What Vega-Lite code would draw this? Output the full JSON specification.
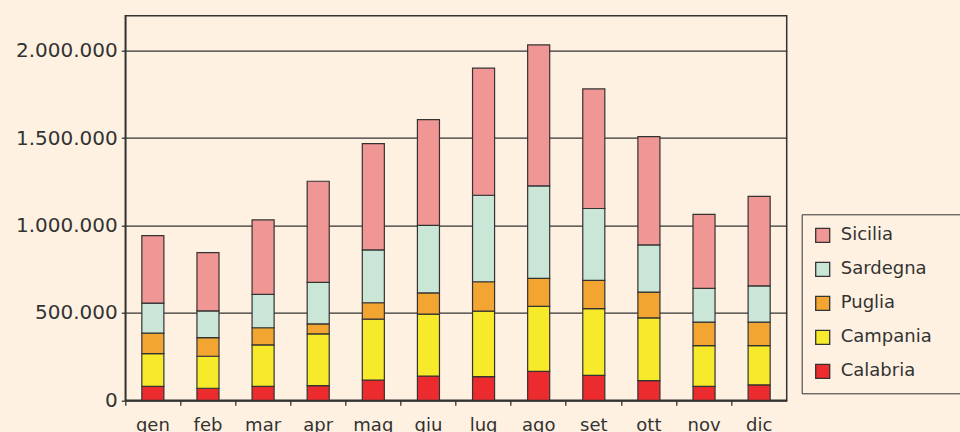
{
  "$schema": "https://vega.github.io/schema/vega-lite/v6.json",
  "width": 661.4,
  "height": 384.6,
  "autosize": {"type": "none"},
  "padding": {"left": 125.3, "top": 15.7, "right": 173.3, "bottom": 31.7},
  "background": "#FEF1E1",
  "data": {
    "values": [
      {"mese": "gen", "regione": "Calabria", "ordine": 1, "valore": 80000},
      {"mese": "gen", "regione": "Campania", "ordine": 2, "valore": 187000},
      {"mese": "gen", "regione": "Puglia", "ordine": 3, "valore": 117000},
      {"mese": "gen", "regione": "Sardegna", "ordine": 4, "valore": 172000},
      {"mese": "gen", "regione": "Sicilia", "ordine": 5, "valore": 386000},
      {"mese": "feb", "regione": "Calabria", "ordine": 1, "valore": 69000},
      {"mese": "feb", "regione": "Campania", "ordine": 2, "valore": 183000},
      {"mese": "feb", "regione": "Puglia", "ordine": 3, "valore": 107000},
      {"mese": "feb", "regione": "Sardegna", "ordine": 4, "valore": 153000},
      {"mese": "feb", "regione": "Sicilia", "ordine": 5, "valore": 333000},
      {"mese": "mar", "regione": "Calabria", "ordine": 1, "valore": 80000},
      {"mese": "mar", "regione": "Campania", "ordine": 2, "valore": 237000},
      {"mese": "mar", "regione": "Puglia", "ordine": 3, "valore": 98000},
      {"mese": "mar", "regione": "Sardegna", "ordine": 4, "valore": 191000},
      {"mese": "mar", "regione": "Sicilia", "ordine": 5, "valore": 426000},
      {"mese": "apr", "regione": "Calabria", "ordine": 1, "valore": 84000},
      {"mese": "apr", "regione": "Campania", "ordine": 2, "valore": 296000},
      {"mese": "apr", "regione": "Puglia", "ordine": 3, "valore": 57000},
      {"mese": "apr", "regione": "Sardegna", "ordine": 4, "valore": 237000},
      {"mese": "apr", "regione": "Sicilia", "ordine": 5, "valore": 579000},
      {"mese": "mag", "regione": "Calabria", "ordine": 1, "valore": 116000},
      {"mese": "mag", "regione": "Campania", "ordine": 2, "valore": 348000},
      {"mese": "mag", "regione": "Puglia", "ordine": 3, "valore": 94000},
      {"mese": "mag", "regione": "Sardegna", "ordine": 4, "valore": 302000},
      {"mese": "mag", "regione": "Sicilia", "ordine": 5, "valore": 608000},
      {"mese": "giu", "regione": "Calabria", "ordine": 1, "valore": 139000},
      {"mese": "giu", "regione": "Campania", "ordine": 2, "valore": 354000},
      {"mese": "giu", "regione": "Puglia", "ordine": 3, "valore": 121000},
      {"mese": "giu", "regione": "Sardegna", "ordine": 4, "valore": 387000},
      {"mese": "giu", "regione": "Sicilia", "ordine": 5, "valore": 604000},
      {"mese": "lug", "regione": "Calabria", "ordine": 1, "valore": 135000},
      {"mese": "lug", "regione": "Campania", "ordine": 2, "valore": 375000},
      {"mese": "lug", "regione": "Puglia", "ordine": 3, "valore": 168000},
      {"mese": "lug", "regione": "Sardegna", "ordine": 4, "valore": 495000},
      {"mese": "lug", "regione": "Sicilia", "ordine": 5, "valore": 727000},
      {"mese": "ago", "regione": "Calabria", "ordine": 1, "valore": 166000},
      {"mese": "ago", "regione": "Campania", "ordine": 2, "valore": 371000},
      {"mese": "ago", "regione": "Puglia", "ordine": 3, "valore": 160000},
      {"mese": "ago", "regione": "Sardegna", "ordine": 4, "valore": 530000},
      {"mese": "ago", "regione": "Sicilia", "ordine": 5, "valore": 806000},
      {"mese": "set", "regione": "Calabria", "ordine": 1, "valore": 143000},
      {"mese": "set", "regione": "Campania", "ordine": 2, "valore": 381000},
      {"mese": "set", "regione": "Puglia", "ordine": 3, "valore": 162000},
      {"mese": "set", "regione": "Sardegna", "ordine": 4, "valore": 411000},
      {"mese": "set", "regione": "Sicilia", "ordine": 5, "valore": 684000},
      {"mese": "ott", "regione": "Calabria", "ordine": 1, "valore": 112000},
      {"mese": "ott", "regione": "Campania", "ordine": 2, "valore": 360000},
      {"mese": "ott", "regione": "Puglia", "ordine": 3, "valore": 147000},
      {"mese": "ott", "regione": "Sardegna", "ordine": 4, "valore": 270000},
      {"mese": "ott", "regione": "Sicilia", "ordine": 5, "valore": 619000},
      {"mese": "nov", "regione": "Calabria", "ordine": 1, "valore": 80000},
      {"mese": "nov", "regione": "Campania", "ordine": 2, "valore": 233000},
      {"mese": "nov", "regione": "Puglia", "ordine": 3, "valore": 134000},
      {"mese": "nov", "regione": "Sardegna", "ordine": 4, "valore": 193000},
      {"mese": "nov", "regione": "Sicilia", "ordine": 5, "valore": 424000},
      {"mese": "dic", "regione": "Calabria", "ordine": 1, "valore": 88000},
      {"mese": "dic", "regione": "Campania", "ordine": 2, "valore": 225000},
      {"mese": "dic", "regione": "Puglia", "ordine": 3, "valore": 134000},
      {"mese": "dic", "regione": "Sardegna", "ordine": 4, "valore": 208000},
      {"mese": "dic", "regione": "Sicilia", "ordine": 5, "valore": 511000}
    ]
  },
  "mark": {"type": "bar", "width": {"band": 0.4}, "stroke": "#333333", "strokeWidth": 1.2},
  "encoding": {
    "x": {
      "field": "mese",
      "type": "nominal",
      "sort": ["gen", "feb", "mar", "apr", "mag", "giu", "lug", "ago", "set", "ott", "nov", "dic"],
      "scale": {"paddingInner": 0, "paddingOuter": 0},
      "axis": {
        "title": null,
        "bandPosition": 0,
        "labelOffset": 0,
        "labelAngle": 0,
        "tickSize": 5,
        "labelPadding": 11,
        "labelFontSize": 18,
        "grid": false
      }
    },
    "y": {
      "field": "valore",
      "type": "quantitative",
      "stack": "zero",
      "scale": {"domain": [0, 2200000], "nice": false},
      "axis": {
        "title": null,
        "values": [0, 500000, 1000000, 1500000, 2000000],
        "labelExpr": "replace(format(datum.value, ','), regexp(',', 'g'), '.')",
        "grid": true,
        "gridColor": "#333333",
        "gridWidth": 1.3,
        "tickSize": 4,
        "labelPadding": 4,
        "labelFontSize": 20
      }
    },
    "color": {
      "field": "regione",
      "type": "nominal",
      "scale": {
        "domain": ["Sicilia", "Sardegna", "Puglia", "Campania", "Calabria"],
        "range": ["#F09795", "#CAE6D6", "#F2A530", "#F7EA2A", "#EC2B2E"]
      },
      "legend": {
        "title": "\u00a0",
        "titleOrient": "right",
        "titlePadding": 24,
        "titleFontSize": 18,
        "titleColor": "#FEF1E1",
        "orient": "none",
        "legendX": 676.4,
        "legendY": 198.6,
        "strokeColor": "#333333",
        "fillColor": "#FEF1E1",
        "padding": 12,
        "symbolType": "square",
        "symbolSize": 196,
        "symbolStrokeColor": "#333333",
        "symbolStrokeWidth": 1.3,
        "symbolOpacity": 1,
        "labelFontSize": 18,
        "labelOffset": 9,
        "rowPadding": 14,
        "labelColor": "#333333"
      }
    },
    "order": {"field": "ordine", "type": "quantitative"}
  },
  "config": {
    "font": "DejaVu Sans",
    "view": {"stroke": "#333333", "strokeWidth": 1.5},
    "axis": {
      "domainColor": "#333333",
      "domainWidth": 1.5,
      "tickColor": "#333333",
      "tickWidth": 1.3,
      "labelColor": "#333333",
      "labelFont": "DejaVu Sans"
    },
    "legend": {"labelFont": "DejaVu Sans"}
  }
}
